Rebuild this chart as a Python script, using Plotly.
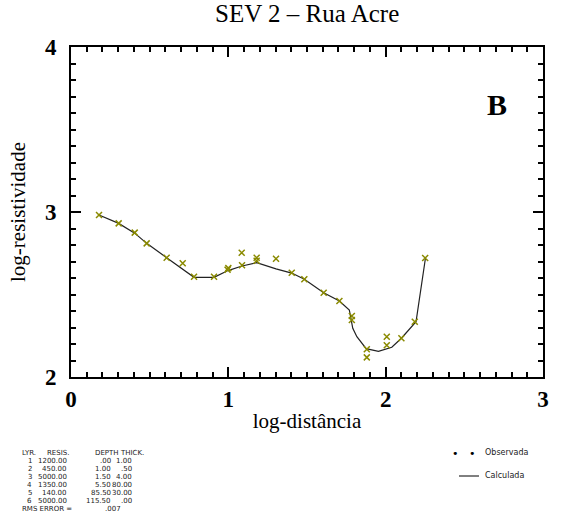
import plotly.graph_objects as go

# ---------------- data ----------------
obs_x = [0.178, 0.303, 0.405, 0.481, 0.608, 0.710, 0.782, 0.909, 0.995, 1.000,
         1.085, 1.087, 1.180, 1.180, 1.303, 1.403, 1.483, 1.606, 1.706, 1.785,
         1.785, 1.880, 1.880, 2.007, 2.007, 2.100, 2.185, 2.251]
obs_y = [2.982, 2.931, 2.875, 2.810, 2.723, 2.689, 2.608, 2.608, 2.650, 2.660,
         2.753, 2.677, 2.723, 2.705, 2.717, 2.632, 2.592, 2.511, 2.461, 2.370,
         2.345, 2.168, 2.119, 2.244, 2.192, 2.235, 2.335, 2.721]

calc_x = [0.178, 0.303, 0.405, 0.481, 0.608, 0.782, 0.909, 0.998, 1.087, 1.180,
          1.303, 1.403, 1.483, 1.606, 1.706, 1.769, 1.791, 1.817, 1.876, 1.954,
          2.039, 2.100, 2.193, 2.253]
calc_y = [2.982, 2.931, 2.872, 2.810, 2.723, 2.604, 2.604, 2.645, 2.673, 2.693,
          2.655, 2.630, 2.592, 2.511, 2.461, 2.406, 2.295, 2.244, 2.172, 2.156,
          2.180, 2.235, 2.335, 2.721]

x_ticks = [0, 1, 2, 3]
y_ticks = [2, 3, 4]

table_header = ["LYR.", "RESIS.", "DEPTH", "THICK."]
layers = ["1", "2", "3", "4", "5", "6"]
resis = ["1200.00", "450.00", "5000.00", "1350.00", "140.00", "5000.00"]
depth = [".00", "1.00", "1.50", "5.50", "85.50", "115.50"]
thick = ["1.00", ".50", "4.00", "80.00", "30.00", ".00"]
rms_label = "RMS ERROR ="
rms_value = ".007"

title = "SEV 2 – Rua Acre"
x_title = "log-distância"
y_title = "log-resistividade"
panel_label = "B"
legend_labels = ["Observada", "Calculada"]

# ---------------- layout constants ----------------
W, H = 561, 517
L, R, T, B = 71, 18, 47, 140
PW, PH = W - L - R, H - T - B


def px(x):
    return (x - L) / PW


def py(y):
    return (H - B - y) / PH


OLIVE = "#8a8a00"
serif = "Liberation Serif"
mono = "DejaVu Sans"

fig = go.Figure()
fig.add_trace(go.Scatter(x=calc_x, y=calc_y, mode="lines",
                         line=dict(color="#222222", width=1.2),
                         showlegend=False, hoverinfo="skip"))
fig.add_trace(go.Scatter(x=obs_x, y=obs_y, mode="markers",
                         marker=dict(symbol="x-thin", size=6,
                                     line=dict(color=OLIVE, width=1.5)),
                         showlegend=False))

axis_common = dict(
    showgrid=False, zeroline=False, showline=True, linecolor="black",
    linewidth=2, ticks="inside", ticklen=10, tickwidth=2, tickcolor="black",
    mirror="allticks", automargin=False,
    tickfont=dict(family=serif, size=23, color="black", weight="bold"),
    minor=dict(ticks="inside", ticklen=5, tickwidth=2, tickcolor="black",
               dtick=0.1, showgrid=False),
)

fig.update_xaxes(range=[0, 3], tickvals=x_ticks, ticktext=[str(v) for v in x_ticks],
                 title=dict(text=x_title, font=dict(family=serif, size=21, color="black"),
                            standoff=3),
                 ticklabelstandoff=0, **axis_common)
fig.update_yaxes(range=[2, 4], tickvals=y_ticks, ticktext=[str(v) for v in y_ticks],
                 title=dict(text=y_title, font=dict(family=serif, size=21, color="black"),
                            standoff=14),
                 ticklabelstandoff=8, **axis_common)

ann = []
ann.append(dict(text=title, x=0.5, y=py(14), xref="paper", yref="paper",
                showarrow=False, font=dict(family=serif, size=25, color="black"),
                xanchor="center", yanchor="middle"))
ann.append(dict(text=panel_label, x=2.71, y=3.65, xref="x", yref="y", showarrow=False,
                font=dict(family=serif, size=30, color="black", weight="bold"),
                xanchor="center", yanchor="middle"))

# table
tfont = dict(family=mono, size=7, color="#222222")
hdr_left = [20, 45, 93, 118]
for h, xl in zip(table_header, hdr_left):
    ann.append(dict(text=h, x=px(xl), y=py(453), xref="paper", yref="paper",
                    showarrow=False, font=tfont, xanchor="left", yanchor="middle"))
row_y0, row_dy = 461, 8
col_right = [34, 69, 113, 134]
for i in range(len(layers)):
    yy = py(row_y0 + i * row_dy)
    for val, xr in zip([layers[i], resis[i], depth[i], thick[i]], col_right):
        ann.append(dict(text=val, x=px(xr), y=yy, xref="paper", yref="paper",
                        showarrow=False, font=tfont, xanchor="right", yanchor="middle"))
yy = py(row_y0 + len(layers) * row_dy)
ann.append(dict(text=rms_label, x=px(20), y=yy, xref="paper", yref="paper",
                showarrow=False, font=tfont, xanchor="left", yanchor="middle"))
ann.append(dict(text=rms_value, x=px(103), y=yy, xref="paper", yref="paper",
                showarrow=False, font=tfont, xanchor="left", yanchor="middle"))

# legend
lfont = dict(family=mono, size=8, color="#222222")
ann.append(dict(text="•   •", x=px(463), y=py(453), xref="paper", yref="paper",
                showarrow=False, font=dict(family=mono, size=11, color="black"),
                xanchor="center", yanchor="middle"))
ann.append(dict(text=legend_labels[0], x=px(483), y=py(452), xref="paper", yref="paper",
                showarrow=False, font=lfont, xanchor="left", yanchor="middle"))
ann.append(dict(text=legend_labels[1], x=px(483), y=py(475), xref="paper", yref="paper",
                showarrow=False, font=lfont, xanchor="left", yanchor="middle"))

shapes = [dict(type="line", xref="paper", yref="paper", x0=px(459), x1=px(479),
               y0=py(476), y1=py(476), line=dict(color="black", width=1))]

fig.update_layout(
    width=W, height=H, margin=dict(l=L, r=R, t=T, b=B, autoexpand=False),
    plot_bgcolor="white", paper_bgcolor="white",
    annotations=ann, shapes=shapes, showlegend=False,
)

fig.write_html(
    "out.html",
    config={"displayModeBar": False},
    post_script="document.body.style.margin='0';document.body.style.overflow='hidden';",
)
